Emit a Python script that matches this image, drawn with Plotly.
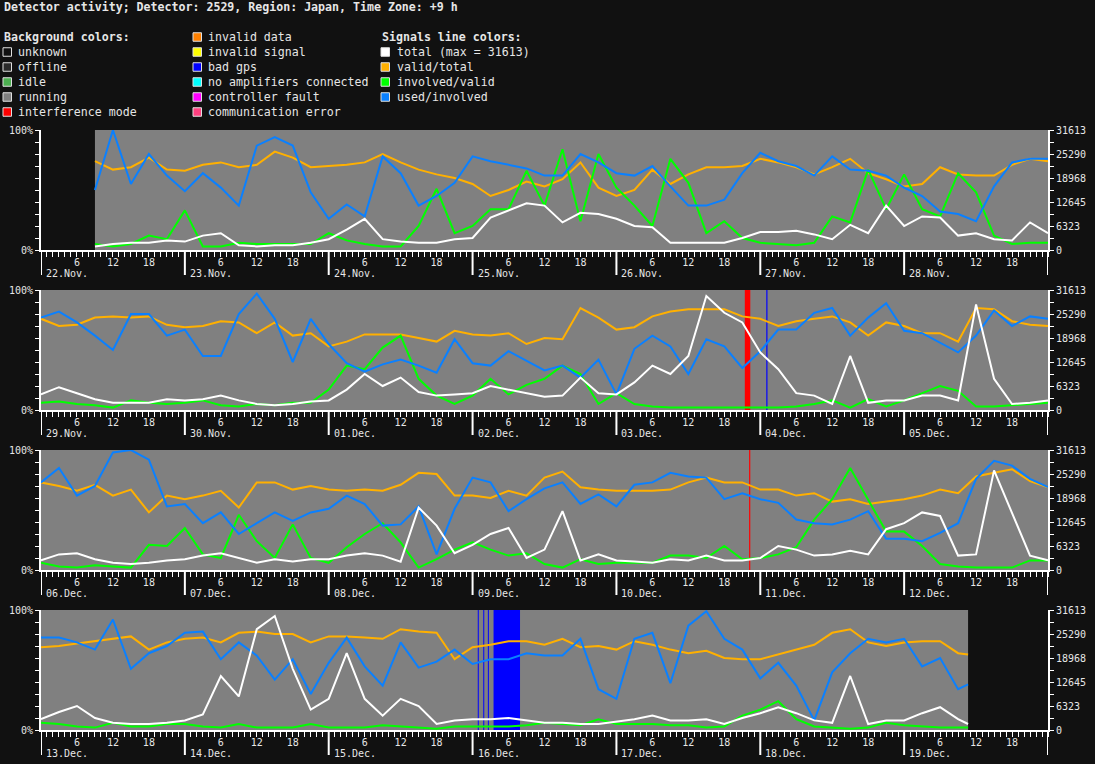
import pandas as pd
import plotly.graph_objects as go

# detector 2529 (Japan), values in 3 hour steps
total_max = 31613

week_start = ["2019-11-22", "2019-11-29", "2019-12-06", "2019-12-13"]
first_sample = ["2019-11-22 09:00", "2019-11-29 00:00", "2019-12-06 00:00", "2019-12-13 00:00"]
last_sample = ["2019-11-29 00:00", "2019-12-06 00:00", "2019-12-13 00:00", "2019-12-19 10:40"]

# total signals (counts, right axis)
total_1 = [950, 1580, 1900, 1900, 2530,
           2210, 3790, 4430, 1260, 950, 1260, 1260, 1900,
           2850, 5370, 8220, 2850, 2210, 1900, 1900, 2850,
           3160, 8540, 10430, 12330, 11700, 7270, 9800, 9480,
           8220, 6320, 6010, 1900, 1900, 1900, 1900, 3160,
           4740, 4740, 5060, 4110, 2850, 6640, 4430, 11700,
           6320, 8850, 8540, 3790, 4430, 2850, 2530, 7270, 4430]
total_2 = [4110, 6010, 4430, 2850, 1900, 1900, 1900, 2850,
           2530, 2850, 3790, 2530, 1580, 1260, 1580, 2210,
           2530, 5370, 9480, 6320, 8540, 4740, 3790, 4110,
           4430, 6320, 5370, 4430, 3480, 3790, 8540, 4430,
           4110, 7270, 11700, 9480, 14230, 30030, 25610, 23080,
           15170, 10750, 4430, 3790, 1580, 14230, 1900, 2530,
           2530, 3790, 3790, 2530, 27820, 8220, 1580, 1900, 2530]
total_3 = [2530, 4110, 4430, 2850, 1900, 1580, 1900, 2530,
           2850, 3790, 4430, 3160, 1900, 2850, 2210, 2850,
           2850, 3790, 4430, 3790, 2210, 16440, 11700, 4430,
           6640, 9480, 11070, 3160, 5370, 15490, 2530, 4110,
           2530, 2210, 1900, 2850, 2530, 3790, 2530, 2530,
           3160, 6320, 5370, 3790, 4110, 5060, 4110, 10750,
           12330, 15170, 14230, 3790, 4110, 26240, 15170, 3790, 2530]
total_4 = [2850, 4740, 6320, 3160, 1900, 1580, 1580, 1900,
           2530, 4110, 14230, 8850, 26560, 30030, 16120, 5370,
           8220, 20230, 8220, 3790, 8220, 6320, 1580, 2530,
           2850, 2850, 3160, 2530, 1900, 1900, 1580, 1580,
           2210, 2850, 3790, 2530, 2530, 2850, 1580, 3160,
           4430, 6010, 4430, 2530, 1900, 14230, 1580, 2530,
           2530, 4430, 6010, 2850, 1580]

# valid/total (%)
valid_1 = [74, 67, 69, 77, 67,
           66, 71, 73, 69, 71, 82, 77, 69,
           70, 71, 73, 80, 73, 67, 63, 60,
           55, 45, 50, 57, 53, 59, 73, 52,
           45, 50, 67, 55, 63, 69, 69, 70,
           76, 73, 69, 63, 69, 76, 64, 59,
           53, 55, 69, 63, 62, 62, 71, 76, 74]
valid_2 = [76, 70, 71, 77, 78, 77, 78, 71,
           69, 70, 74, 73, 64, 73, 62, 64,
           53, 57, 63, 63, 63, 60, 57, 66,
           63, 62, 64, 55, 60, 59, 85, 77,
           67, 69, 78, 82, 84, 84, 84, 78,
           76, 70, 74, 76, 78, 73, 62, 73,
           70, 64, 64, 57, 85, 84, 74, 71, 70]
valid_3 = [73, 70, 66, 71, 62, 67, 48, 62,
           59, 62, 66, 52, 73, 73, 67, 70,
           67, 66, 67, 66, 71, 81, 80, 62,
           62, 60, 66, 62, 77, 82, 69, 67,
           66, 66, 66, 67, 73, 77, 73, 73,
           67, 67, 62, 64, 57, 59, 55, 57,
           59, 62, 67, 64, 78, 81, 84, 74, 69]
valid_4 = [69, 70, 72, 74, 76, 78, 67, 73,
           76, 77, 73, 81, 82, 80, 80, 73,
           78, 78, 77, 76, 84, 82, 81, 59,
           69, 71, 74, 74, 71, 76, 69, 70,
           67, 74, 71, 67, 64, 66, 60, 59,
           59, 63, 67, 71, 81, 84, 73, 70,
           73, 74, 74, 64, 63]

# involved/valid (%)
involved_1 = [5, 3, 5, 12, 9,
              33, 3, 3, 6, 5, 5, 5, 5,
              14, 8, 5, 3, 3, 20, 51, 14,
              20, 34, 34, 66, 37, 84, 24, 80,
              52, 37, 20, 76, 56, 14, 24, 10,
              6, 5, 4, 6, 28, 23, 67, 34,
              63, 34, 28, 64, 48, 12, 5, 6, 6]
involved_2 = [6, 7, 5, 4, 2, 8, 6, 5,
              6, 8, 4, 3, 5, 4, 6, 6,
              17, 37, 34, 52, 62, 26, 12, 5,
              12, 26, 13, 21, 26, 37, 30, 5,
              14, 5, 3, 2, 2, 2, 2, 2,
              2, 2, 3, 5, 8, 2, 9, 3,
              8, 14, 20, 16, 3, 3, 4, 5, 6]
involved_3 = [6, 3, 2, 4, 3, 2, 21, 20,
              35, 13, 10, 46, 24, 10, 38, 10,
              6, 19, 30, 39, 23, 2, 9, 17,
              23, 17, 12, 14, 5, 2, 9, 5,
              6, 6, 6, 12, 12, 10, 20, 9,
              10, 13, 19, 42, 59, 85, 59, 32,
              32, 20, 5, 3, 2, 2, 2, 8, 8]
involved_4 = [6, 5, 3, 2, 6, 3, 3, 5,
              5, 3, 2, 5, 2, 2, 2, 5,
              2, 2, 2, 4, 3, 2, 1, 3,
              3, 3, 3, 4, 6, 5, 4, 9,
              5, 5, 5, 4, 4, 2, 3, 12,
              17, 24, 9, 3, 2, 1, 2, 6,
              4, 3, 2, 2, 2]

# used/involved (%)
used_1 = [50, 100, 55, 80, 62,
          49, 64, 52, 37, 87, 94, 87, 48,
          26, 38, 28, 78, 64, 37, 45, 56,
          78, 74, 71, 68, 62, 62, 80, 73,
          64, 62, 70, 53, 37, 37, 42, 64,
          81, 74, 70, 62, 78, 67, 66, 62,
          52, 45, 32, 30, 24, 53, 73, 76, 76]
used_2 = [77, 82, 73, 62, 50, 80, 80, 62,
          67, 45, 45, 80, 97, 76, 40, 76,
          55, 39, 32, 38, 42, 37, 31, 59,
          39, 37, 49, 41, 33, 37, 27, 42,
          13, 51, 62, 53, 30, 59, 53, 35,
          49, 67, 67, 81, 85, 62, 77, 89,
          66, 64, 56, 48, 62, 83, 70, 78, 76]
used_3 = [73, 85, 62, 70, 98, 100, 92, 53,
          55, 39, 48, 30, 39, 48, 41, 48,
          51, 62, 55, 37, 38, 53, 13, 51,
          77, 73, 49, 59, 68, 73, 55, 63,
          53, 71, 73, 81, 78, 77, 59, 64,
          59, 56, 42, 39, 38, 42, 49, 26,
          26, 24, 31, 39, 76, 91, 87, 76, 69]
used_4 = [77, 77, 73, 67, 92, 51, 64, 70,
          81, 82, 59, 73, 62, 42, 59, 30,
          56, 77, 53, 37, 73, 52, 57, 67,
          55, 59, 59, 64, 62, 62, 76, 34,
          26, 76, 81, 39, 87, 99, 76, 67,
          43, 56, 37, 8, 48, 64, 76, 73,
          76, 53, 60, 34, 38]

# detector state intervals (background)
status_from = ["2019-11-22 09:00", "2019-12-03 21:25", "2019-12-04 01:00", "2019-12-10 22:08",
               "2019-12-16 00:52", "2019-12-16 01:47", "2019-12-16 02:33", "2019-12-16 03:30"]
status_to = ["2019-12-19 10:40", "2019-12-03 22:20", "2019-12-04 01:12", "2019-12-10 22:20",
             "2019-12-16 01:02", "2019-12-16 01:57", "2019-12-16 02:43", "2019-12-16 07:55"]
status_kind = ["running", "interference mode", "bad gps", "interference mode",
               "bad gps", "bad gps", "bad gps", "bad gps"]

bg_colors = {
    "unknown": "#111111", "offline": "#2a2a2a", "idle": "#4caf50", "running": "#808080",
    "interference mode": "#ff0000", "invalid data": "#ff8000", "invalid signal": "#ffff00",
    "bad gps": "#0000ff", "no amplifiers connected": "#00ffff", "controller fault": "#ff00ff",
    "communication error": "#ff4080",
}
line_colors = {"total": "#ffffff", "valid/total": "#ffb000",
               "involved/valid": "#00ff00", "used/involved": "#0a80ff"}

totals = [total_1, total_2, total_3, total_4]
valids = [valid_1, valid_2, valid_3, valid_4]
involveds = [involved_1, involved_2, involved_3, involved_4]
useds = [used_1, used_2, used_3, used_4]

W, H = 1095, 764
BG = "#111111"
TXT = "#e6e6e6"
MONO = "DejaVu Sans Mono"
plot_l, plot_r = 41, 1048
panel_top = [130, 290, 450, 610]
panel_h = 120

fig = go.Figure()
layout = dict(template="none", width=W, height=H, margin=dict(l=0, r=0, t=0, b=0, pad=0),
              paper_bgcolor=BG, plot_bgcolor=BG, showlegend=False,
              font=dict(family=MONO, size=10, color=TXT))
shapes = []
annotations = []

for r in range(4):
    xid = "x" if r == 0 else f"x{r + 1}"
    ly = "y" if r == 0 else f"y{2 * r + 1}"
    ry = f"y{2 * r + 2}"
    ws = pd.Timestamp(week_start[r])
    we = ws + pd.Timedelta(days=7)
    dom_y = [1 - (panel_top[r] + panel_h) / H, 1 - panel_top[r] / H]

    hour_ticks, hour_text = [], []
    for d in range(7):
        for h in (6, 12, 18):
            hour_ticks.append(ws + pd.Timedelta(days=d, hours=h))
            hour_text.append(str(h))

    layout["xaxis" + xid[1:]] = dict(
        domain=[plot_l / W, plot_r / W], anchor=ly, range=[ws, we], automargin=False,
        showgrid=False, zeroline=False, showline=True, linecolor="white", linewidth=2,
        ticks="outside", ticklen=5, tickcolor="white", tickwidth=1,
        tickvals=hour_ticks, ticktext=hour_text, tickfont=dict(size=10, color=TXT),
        ticklabelstandoff=-3,
        minor=dict(dtick=3600000, tick0=ws, ticks="outside", ticklen=5,
                   tickcolor="white", tickwidth=1, showgrid=False),
        fixedrange=True)
    layout["yaxis" + ly[1:]] = dict(
        domain=dom_y, anchor=xid, range=[0, 100], automargin=False,
        showgrid=False, zeroline=False, showline=True, linecolor="white", linewidth=2,
        tickvals=[0, 100], ticktext=["0%", "100%"], ticks="outside", ticklen=4,
        tickcolor="white", tickfont=dict(size=10, color=TXT),
        minor=dict(dtick=10, ticks="outside", ticklen=4, tickcolor="white", showgrid=False),
        fixedrange=True)
    right_ticks = [round(total_max * k / 5) for k in range(6)]
    layout["yaxis" + ry[1:]] = dict(
        domain=dom_y, anchor=xid, overlaying=ly, side="right", range=[0, total_max],
        automargin=False,
        showgrid=False, zeroline=False, showline=True, linecolor="white", linewidth=2,
        tickvals=right_ticks, ticktext=[str(v) for v in right_ticks],
        ticks="outside", ticklen=4, tickcolor="white", tickfont=dict(size=10, color=TXT),
        minor=dict(tickvals=[total_max * (2 * k + 1) / 10 for k in range(5)],
                   ticks="outside", ticklen=4, tickcolor="white", showgrid=False),
        fixedrange=True)

    # background states
    for s0, s1, kind in zip(status_from, status_to, status_kind):
        shapes.append(dict(type="rect", xref=xid, yref=f"{ly} domain", x0=s0, x1=s1,
                           y0=0, y1=1, fillcolor=bg_colors[kind], line_width=0,
                           layer="below"))

    # day separators and labels
    for d in range(8):
        day = ws + pd.Timedelta(days=d)
        shapes.append(dict(type="line", xref=xid, yref=f"{ly} domain", x0=day, x1=day,
                           y0=0, y1=-25 / panel_h, line=dict(color="white", width=2)))
        if d < 7:
            annotations.append(dict(x=day, y=-23.5 / panel_h, xref=xid, yref=f"{ly} domain",
                                    text=day.strftime("%d.%b."), showarrow=False,
                                    xanchor="left", yanchor="middle", xshift=3,
                                    font=dict(size=10, color=TXT)))

    times = list(pd.date_range(first_sample[r], last_sample[r], freq="3h", inclusive="left"))
    times.append(pd.Timestamp(last_sample[r]))

    series = [("total", totals[r], ry), ("valid/total", valids[r], ly),
              ("involved/valid", involveds[r], ly), ("used/involved", useds[r], ly)]
    for name, vals, yid in series:
        fig.add_trace(go.Scatter(x=times, y=vals, xaxis=xid, yaxis=yid, mode="lines",
                                 name=name, line=dict(color=line_colors[name], width=2),
                                 hoverinfo="skip"))


def text_at(px, py, text, size=11.6):
    annotations.append(dict(x=px / W, y=1 - py / H, xref="paper", yref="paper", text=text,
                            showarrow=False, xanchor="left", yanchor="middle",
                            font=dict(family=MONO, size=size, color=TXT)))


def swatch(px, py, color):
    shapes.append(dict(type="rect", xref="paper", yref="paper",
                       x0=px / W, x1=(px + 8.5) / W, y0=1 - (py + 4.25) / H,
                       y1=1 - (py - 4.25) / H,
                       fillcolor=color, line=dict(color="#e0e0e0", width=1)))


text_at(2, 7, "<b>Detector activity; Detector: 2529, Region: Japan, Time Zone: +9 h</b>")

col1 = ["unknown", "offline", "idle", "running", "interference mode"]
col2 = ["invalid data", "invalid signal", "bad gps", "no amplifiers connected",
        "controller fault", "communication error"]
text_at(2, 37, "<b>Background colors:</b>")
for i, k in enumerate(col1):
    swatch(3, 52 + 15 * i, bg_colors[k])
    text_at(16, 52 + 15 * i, k)
for i, k in enumerate(col2):
    swatch(193, 37 + 15 * i, bg_colors[k])
    text_at(206, 37 + 15 * i, k)
text_at(380, 37, "<b>Signals line colors:</b>")
for i, k in enumerate(line_colors):
    label = f"total (max = {total_max})" if k == "total" else k
    swatch(381, 52 + 15 * i, line_colors[k])
    text_at(395, 52 + 15 * i, label)

layout["shapes"] = shapes
layout["annotations"] = annotations
fig.update_layout(**layout)

# pin the chart to the top-left corner of a dark page, no body margin
page_js = ("var gd=document.getElementById('{plot_id}');"
           "gd.style.position='fixed';gd.style.top='0px';gd.style.left='0px';"
           "document.body.style.margin='0';document.body.style.background='#111111';"
           "document.documentElement.style.background='#111111';"
           "document.documentElement.style.overflow='hidden';")
fig.write_html("out.html", config={"displayModeBar": False}, post_script=page_js)
